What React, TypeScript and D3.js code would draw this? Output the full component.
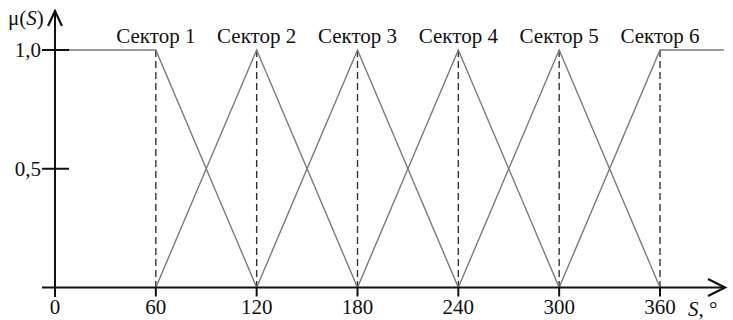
import React from "react";
import * as d3 from "d3";

// Sector membership functions: peaks (degrees) and label text
const sectorNames = ["Сектор 1", "Сектор 2", "Сектор 3", "Сектор 4", "Сектор 5", "Сектор 6"];
const sectorPeaks = [60, 120, 180, 240, 300, 360];
// Breakpoints [S, μ] for each sector's membership function
const sectorShapes: [number, number][][] = [
  [[0, 1], [60, 1], [120, 0]],
  [[60, 0], [120, 1], [180, 0]],
  [[120, 0], [180, 1], [240, 0]],
  [[180, 0], [240, 1], [300, 0]],
  [[240, 0], [300, 1], [360, 0]],
  [[300, 0], [360, 1], [398, 1]],
];
const xTicks = [0, 60, 120, 180, 240, 300, 360];
const xTickLabels = ["0", "60", "120", "180", "240", "300", "360"];
const yTicks = [0.5, 1.0];
const yTickLabels = ["0,5", "1,0"];

const W = 733;
const H = 320;

export default function App() {
  const x = d3.scaleLinear().domain([0, 360]).range([55, 660]);
  const y = d3.scaleLinear().domain([0, 1]).range([287.5, 50]);
  const line = d3
    .line<[number, number]>()
    .x((d) => x(d[0]))
    .y((d) => y(d[1]));

  const font = "Liberation Serif, Times New Roman, serif";
  const x0 = x(0);
  const y0 = y(0);

  return (
    <svg
      width={W}
      height={H}
      style={{ position: "absolute", left: 0, top: 0, background: "#fff", fontFamily: font }}
    >
      {/* dashed verticals at sector peaks */}
      {sectorPeaks.map((p) => (
        <line
          key={"d" + p}
          x1={x(p)}
          x2={x(p)}
          y1={y(1)}
          y2={y0}
          stroke="#333"
          strokeWidth={1.4}
          strokeDasharray="7,4"
        />
      ))}
      {/* membership functions */}
      {sectorShapes.map((s, i) => (
        <path key={"s" + i} d={line(s) ?? ""} fill="none" stroke="#7a7a7a" strokeWidth={1.4} />
      ))}
      {/* sector labels */}
      {sectorNames.map((n, i) => (
        <text key={n} x={x(sectorPeaks[i])} y={43} textAnchor="middle" fontSize={21} fill="#111">
          {n}
        </text>
      ))}
      {/* x axis */}
      <line x1={42} x2={725} y1={y0} y2={y0} stroke="#111" strokeWidth={2} />
      <polyline
        points={`708,279 725,${y0} 708,296`}
        fill="none"
        stroke="#111"
        strokeWidth={2.2}
      />
      {/* y axis */}
      <line x1={x0} x2={x0} y1={11} y2={297} stroke="#111" strokeWidth={2} />
      <polyline points={`48,26 ${x0},11 62,26`} fill="none" stroke="#111" strokeWidth={2.2} />
      {/* x ticks */}
      {xTicks.map((t, i) => (
        <g key={"xt" + t}>
          <line x1={x(t)} x2={x(t)} y1={y0} y2={y0 + 9} stroke="#111" strokeWidth={2} />
          <text x={x(t)} y={314} textAnchor="middle" fontSize={21} fill="#111">
            {xTickLabels[i]}
          </text>
        </g>
      ))}
      {/* y ticks */}
      {yTicks.map((t, i) => (
        <g key={"yt" + t}>
          <line x1={42} x2={69} y1={y(t)} y2={y(t)} stroke="#111" strokeWidth={2} />
          <text x={41} y={y(t) + 7} textAnchor="end" fontSize={21} fill="#111">
            {yTickLabels[i]}
          </text>
        </g>
      ))}
      {/* axis titles */}
      <text x={8} y={25} fontSize={21} fill="#111">
        μ(<tspan fontStyle="italic">S</tspan>)
      </text>
      <text x={688} y={316} fontSize={21} fill="#111">
        <tspan fontStyle="italic">S</tspan>, °
      </text>
    </svg>
  );
}
